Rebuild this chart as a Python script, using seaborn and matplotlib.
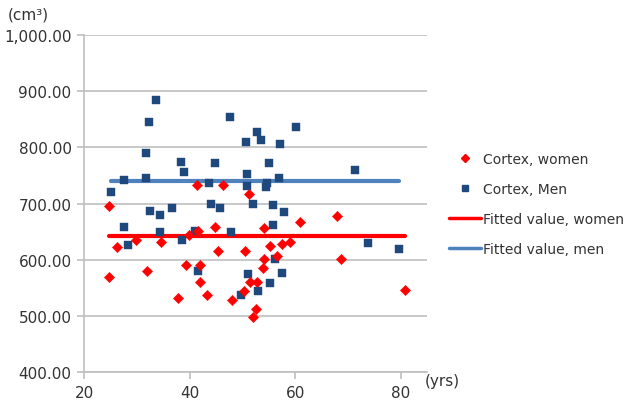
import matplotlib
matplotlib.use("Agg")
import matplotlib.pyplot as plt
import seaborn as sns
import pandas as pd
from matplotlib.lines import Line2D
from matplotlib.ticker import FuncFormatter

# --- data ---
men_age = [33.7, 32.3, 47.7, 50.6, 31.7, 38.3, 39.0, 44.8, 27.5, 31.8, 25.1, 43.7,
           50.8, 50.9, 44.0, 45.8, 36.6, 32.4, 34.3, 52.0, 27.6, 34.4, 41.1, 47.9,
           38.5, 28.3, 41.5, 49.7, 51.1, 60.2, 52.7, 53.5, 57.1, 55.1, 56.9, 71.4,
           54.6, 54.4, 55.7, 57.8, 55.8, 73.8, 79.7, 56.1, 57.4, 55.2, 52.9]
men_vol = [884, 846, 855, 810, 791, 775, 756, 772, 742, 745, 721, 737,
           753, 732, 699, 692, 692, 686, 679, 699, 659, 650, 652, 649,
           636, 627, 580, 538, 575, 836, 827, 813, 807, 773, 745, 759,
           737, 729, 697, 685, 662, 629, 620, 601, 577, 558, 545]

women_age = [24.7, 41.4, 46.4, 51.3, 44.8, 39.9, 41.6, 29.8, 26.3, 34.6, 45.3, 50.4,
             24.7, 32.0, 39.4, 41.9, 42.0, 43.2, 37.8, 48.0, 50.2, 52.0, 54.1, 60.9,
             67.9, 55.3, 57.4, 59.1, 54.1, 56.5, 53.8, 68.6, 51.5, 52.7, 52.5, 80.8]
women_vol = [696, 734, 734, 717, 659, 645, 651, 635, 622, 631, 616, 616,
             570, 580, 590, 590, 561, 538, 532, 528, 544, 499, 656, 667,
             678, 624, 628, 631, 602, 606, 586, 601, 560, 560, 512, 547]

fit_women = 642.5
fit_men = 740.5

x_ticks = [20, 40, 60, 80]
y_ticks = [400, 500, 600, 700, 800, 900, 1000]

RED = "#FF0000"
NAVY = "#1F497D"
LBLUE = "#4F81BD"
GRID = "#BFBFBF"

sns.set_theme(style="white")
plt.rcParams["font.family"] = ["DejaVu Sans"]

fig = plt.figure(figsize=(6.32, 4.06), dpi=100)
ax = fig.add_axes([0.133, 0.081, 0.543, 0.830])

women = pd.DataFrame({"age": women_age, "vol": women_vol})
men = pd.DataFrame({"age": men_age, "vol": men_vol})

fw = pd.DataFrame({"age": [min(women_age), max(women_age)], "vol": [fit_women, fit_women]})
fm = pd.DataFrame({"age": [min(men_age), max(men_age)], "vol": [fit_men, fit_men]})

sns.lineplot(data=fw, x="age", y="vol", color=RED, lw=3, ax=ax, zorder=2)
sns.lineplot(data=fm, x="age", y="vol", color=LBLUE, lw=3, ax=ax, zorder=2)
sns.scatterplot(data=men, x="age", y="vol", marker="s", color=NAVY, s=30,
                edgecolor=NAVY, linewidth=0.3, ax=ax, zorder=3)
sns.scatterplot(data=women, x="age", y="vol", marker="D", color=RED, s=28,
                edgecolor=RED, linewidth=0.3, ax=ax, zorder=3)

ax.set_xlim(20, 85)
ax.set_ylim(400, 1000)
ax.set_xticks(x_ticks)
ax.set_yticks(y_ticks)
ax.yaxis.set_major_formatter(FuncFormatter(lambda v, p: f"{v:,.2f}"))
ax.set_xlabel("")
ax.set_ylabel("")
ax.grid(axis="y", color=GRID, lw=1.2)
ax.grid(axis="x", visible=False)
for s in ["top", "right"]:
    ax.spines[s].set_visible(False)
for s in ["left", "bottom"]:
    ax.spines[s].set_color(GRID)
    ax.spines[s].set_linewidth(1.2)
ax.tick_params(axis="both", which="major", length=5, width=1.2, color=GRID,
               labelsize=11, labelcolor="#333333", direction="out",
               bottom=True, left=True, pad=4)

fig.text(0.013, 0.962, "(cm³)", fontsize=11, color="#333333", ha="left", va="center")
fig.text(0.672, 0.060, "(yrs)", fontsize=11, color="#333333", ha="left", va="center")

handles = [
    Line2D([], [], marker="D", color=RED, ls="none", markersize=4),
    Line2D([], [], marker="s", color=NAVY, ls="none", markersize=4),
    Line2D([], [], color=RED, lw=2.5),
    Line2D([], [], color=LBLUE, lw=2.5),
]
labels = ["Cortex, women", "Cortex, Men", "Fitted value, women", "Fitted value, men"]
fig.legend(handles, labels, loc="center left", bbox_to_anchor=(0.69, 0.495),
           frameon=False, fontsize=10, handlelength=2.3, handletextpad=0.2,
           labelspacing=1.15, labelcolor="#333333")

fig.savefig("out.png", dpi=100)
